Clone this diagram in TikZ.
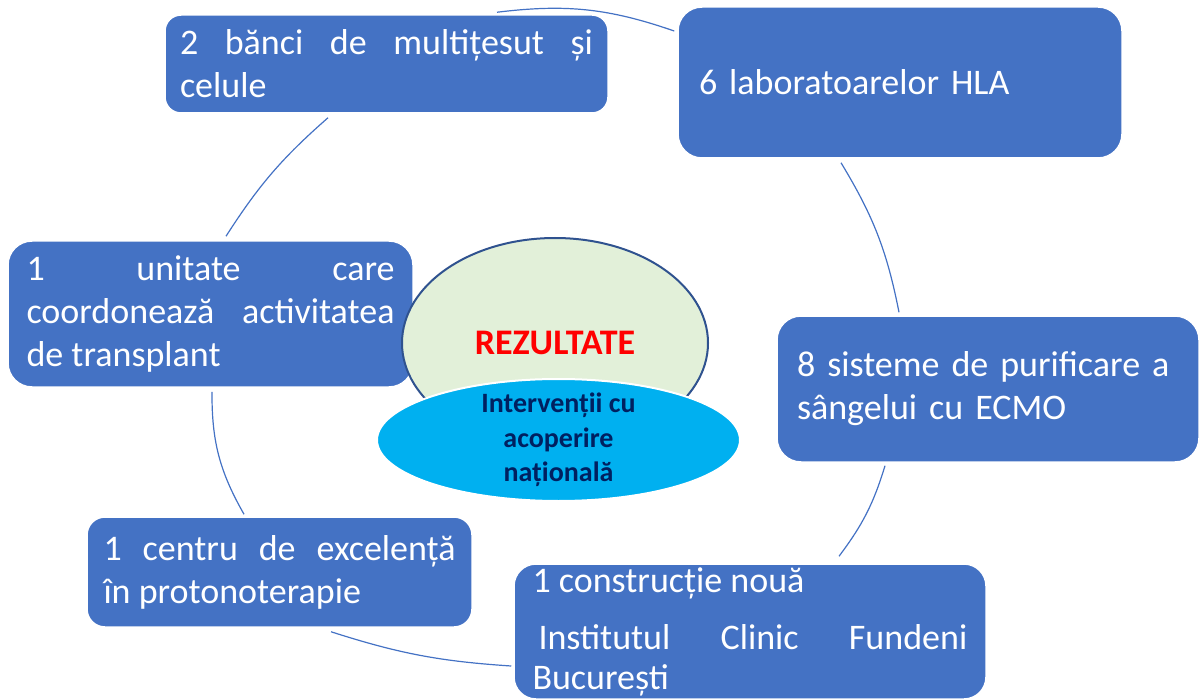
\documentclass[tikz,border=0pt]{standalone}
\usepackage{fontspec}
\setmainfont{Carlito}
\usepackage{xcolor}
\usepackage{tikz}
\usetikzlibrary{shapes,arrows,positioning,calc}
\definecolor{boxblue}{HTML}{4472C4}
\definecolor{paleGreen}{HTML}{E2F0D9}
\definecolor{navyLine}{HTML}{2F528F}
\definecolor{cyanFill}{HTML}{00B0F0}
\definecolor{navyText}{HTML}{002060}
\hyphenpenalty=10000
\exhyphenpenalty=10000

\begin{document}
\begin{tikzpicture}[x=0.5pt,y=-0.5pt,
    box/.style={rectangle, fill=boxblue, draw=white, line width=0.75pt, text=white,
        inner sep=0pt, align=justify, font=\fontsize{18}{21.5}\selectfont},
    ring/.style={draw=boxblue, line width=0.6pt}]
    \useasboundingbox (0,0) rectangle (1199,700);

    % Boxes
    \node[box, rounded corners=8pt, minimum width=221.5pt, minimum height=49pt, text width=206.5pt]
        (banci) at (386.5,64) {2 bănci de multițesut și celule};
    \node[box, align=left, rounded corners=12pt, minimum width=222pt, minimum height=75.5pt, text width=201pt]
        (hla) at (900,82.5) {6 laboratoarelor HLA};
    \node[box, rounded corners=12pt, minimum width=202.5pt, minimum height=73pt, text width=184pt]
        (unitate) at (210.5,314) {1 unitate care coordonează activitatea de transplant};
    \node[box, align=left, rounded corners=12pt, minimum width=211pt, minimum height=73pt, text width=191pt]
        (ecmo) at (988,389) {8 sisteme de purificare a sângelui cu ECMO};
    \node[box, rounded corners=9pt, minimum width=192.5pt, minimum height=55pt, text width=176pt]
        (centru) at (279.5,572) {1 centru de excelență\linebreak în protonoterapie};
    \node[box, rounded corners=11pt, minimum width=236pt, minimum height=67.5pt, text width=217.5pt,
        font=\fontsize{18}{20}\selectfont]
        (fundeni) at (750,631.5) {1 construcție nouă\par\vspace{8.5pt}\hspace*{3pt}Institutul Clinic Fundeni București};

    % Ring
    \draw[ring] ($(banci.north)+(110.5,-2)$) to[bend left=13] ($(hla.west)+(-3,-51.5)$);
    \draw[ring] ($(hla.south)+(-59,4)$) to[bend left=10] ($(ecmo.north)+(-89,-3)$);
    \draw[ring] ($(ecmo.south)+(-103,3)$) to[bend left=10] ($(fundeni.north)+(89,-7)$);
    \draw[ring] ($(centru.south)+(51.5,4)$) to[bend right=7] ($(fundeni.west)+(-2,34.5)$);
    \draw[ring] ($(unitate.south)+(1.5,4)$) to[bend right=15] ($(centru.north)+(-35.5,-2)$);
    \draw[ring] ($(banci.south)+(-58.5,4)$) to[bend right=8] ($(unitate.north)+(15.5,-4)$);

    % Centre
    \node[ellipse, fill=paleGreen, draw=navyLine, line width=1pt, minimum width=153pt, minimum height=105pt,
        text=red, font=\bfseries\fontsize{18}{21}\selectfont] (rezultate) at (555,343) {REZULTATE};
    \node[ellipse, fill=cyanFill, draw=white, line width=1pt, minimum width=181.5pt, minimum height=61pt,
        inner sep=0pt] (nationala) at (558.5,440) {};
    \node[text=navyText, align=center, font=\bfseries\fontsize{14}{17.25}\selectfont]
        (natText) at (nationala) {Intervenții cu\\acoperire\\națională};
\end{tikzpicture}
\end{document}
